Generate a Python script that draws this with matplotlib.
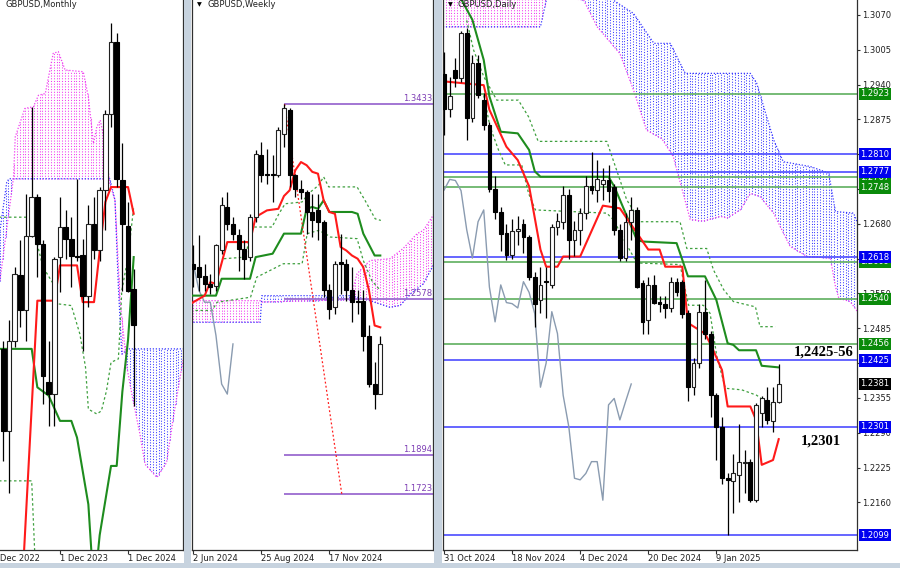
import numpy as np
import matplotlib.pyplot as plt
from matplotlib.patches import Rectangle

plt.rcParams['font.family'] = ['DejaVu Sans']

W, H = 900, 568

# ---------------- monthly, bar 0 = Feb 2023
m_o = [1.2299, 1.2013, 1.2328, 1.2555, 1.2433, 1.2694, 1.2828, 1.2665, 1.2182, 1.2141, 1.2619, 1.2724,
       1.2683, 1.2622, 1.2625, 1.2485, 1.2735, 1.2642, 1.2852, 1.3119, 1.3370, 1.2886, 1.2729, 1.2508]
m_h = [1.2328, 1.2398, 1.2584, 1.2677, 1.2840, 1.3143, 1.2840, 1.2677, 1.2328, 1.2619, 1.2828, 1.2782,
       1.2758, 1.2892, 1.2683, 1.2799, 1.2828, 1.2863, 1.3131, 1.3434, 1.3399, 1.3015, 1.2811, 1.2576]
m_l = [1.1909, 1.1798, 1.2304, 1.2374, 1.2328, 1.2689, 1.2549, 1.2107, 1.2031, 1.2031, 1.2497, 1.2613,
       1.2514, 1.2607, 1.2293, 1.2444, 1.2613, 1.2607, 1.2712, 1.3073, 1.2863, 1.2502, 1.2497, 1.2099]
m_c = [1.2013, 1.2328, 1.2561, 1.2433, 1.2694, 1.2828, 1.2665, 1.2206, 1.2141, 1.2613, 1.2724, 1.2683,
       1.2622, 1.2619, 1.2485, 1.2735, 1.2642, 1.2852, 1.3119, 1.3370, 1.2892, 1.2735, 1.2502, 1.2381]
m_dates = ['1 Dec 2022', '1 Dec 2023', '1 Dec 2024']
m_date_bars = [-2, 10, 22]
m_tenkan_x = [3, 6, 9, 10, 13, 14, 16, 17, 18, 19, 22, 23]
m_tenkan_y = [1.1350, 1.2467, 1.2467, 1.2590, 1.2590, 1.2462, 1.2462, 1.2640, 1.2811, 1.2863, 1.2863, 1.2770]
m_kijun_x = [-1, 5, 6, 8, 10, 12, 13, 15, 16, 17, 19, 20, 21, 22, 23]
m_kijun_y = [1.2299, 1.2299, 1.2165, 1.2136, 1.2048, 1.2048, 1.1990, 1.1757, 1.1450, 1.1650, 1.1891, 1.1891,
             1.2150, 1.2330, 1.2619]
m_dot1_x = [-1, 5, 5.6, 7, 8.8, 9.6, 12, 13.5, 14.5, 15, 16.5, 17.3, 18.2, 19, 20.3, 20.9, 22, 23]
m_dot1_y = [1.2758, 1.2758, 1.2694, 1.2584, 1.2526, 1.2456, 1.2450, 1.2351, 1.2235, 1.2089, 1.2072, 1.2083,
            1.2153, 1.2252, 1.2264, 1.2502, 1.2619, 1.2793]
m_dot2_x = [-1, 5, 5.6]
m_dot2_y = [1.1839, 1.1839, 1.1560]
m_spanA_x = [-0.6, 0.6, 1.0, 18.8, 19.7, 20.3, 20.9, 22.1, 31.7]
m_spanA_y = [1.2710, 1.2880, 1.2892, 1.2892, 1.2817, 1.2514, 1.2281, 1.2299, 1.2299]
m_spanB_x = [-0.6, 1.8, 2.1, 3.8, 5.3, 6.2, 7.4, 8.8, 9.7, 10.9, 14.1, 15, 15.9, 16.5, 17.1, 17.6, 18.8,
             19.7, 20.6, 21.8, 22.9, 24.1, 25, 27.1, 28.8, 30, 31.7]
m_spanB_y = [1.2537, 1.2898, 1.3038, 1.3137, 1.3143, 1.3183, 1.3189, 1.3329, 1.3335, 1.3271, 1.3265, 1.3177,
             1.3015, 1.3073, 1.3096, 1.3049, 1.2875, 1.2817, 1.2467, 1.2235, 1.2118, 1.2002, 1.1897, 1.1851,
             1.1903, 1.2060, 1.2260]

# ---------------- weekly, bar 0 = 2 Jun 2024
w_o = [1.2733, 1.2718, 1.2681, 1.2645, 1.2637, 1.2791, 1.2982, 1.2908, 1.2857, 1.2799, 1.2762, 1.2938,
       1.3209, 1.3128, 1.3125, 1.3121, 1.3304, 1.3407, 1.3121, 1.3062, 1.3048, 1.2960, 1.2967, 1.2916,
       1.2616, 1.2542, 1.2740, 1.2733, 1.2616, 1.2571, 1.2571, 1.2418, 1.2205, 1.2161]
w_h = [1.2813, 1.2857, 1.2733, 1.2689, 1.2821, 1.3026, 1.3048, 1.2938, 1.2886, 1.2835, 1.2952, 1.3231,
       1.3267, 1.3238, 1.3209, 1.3333, 1.3433, 1.3414, 1.3128, 1.3099, 1.3055, 1.3040, 1.3040, 1.2923,
       1.2645, 1.2747, 1.2865, 1.2755, 1.2718, 1.2616, 1.2616, 1.2462, 1.2301, 1.2418]
w_l = [1.2630, 1.2615, 1.2615, 1.2601, 1.2615, 1.2777, 1.2879, 1.2835, 1.2703, 1.2667, 1.2747, 1.2916,
       1.3092, 1.3084, 1.3004, 1.3114, 1.3245, 1.3070, 1.3026, 1.3018, 1.2865, 1.2850, 1.2835, 1.2586,
       1.2491, 1.2513, 1.2601, 1.2571, 1.2476, 1.2513, 1.2352, 1.2191, 1.2095, 1.2161]
w_c = [1.2711, 1.2674, 1.2645, 1.2633, 1.2813, 1.2989, 1.2908, 1.2864, 1.2799, 1.2755, 1.2938, 1.3216,
       1.3121, 1.3121, 1.3123, 1.3319, 1.3414, 1.3121, 1.3062, 1.3048, 1.2960, 1.2923, 1.2916, 1.2616,
       1.2535, 1.2733, 1.2733, 1.2616, 1.2564, 1.2564, 1.2418, 1.2205, 1.2161, 1.2381]
w_dates = ['2 Jun 2024', '25 Aug 2024', '17 Nov 2024']
w_date_bars = [0, 12, 24]
w_tenkan_x = [-0.5, 2, 3, 4, 6, 10, 11, 13, 15, 16, 17, 18, 19, 20, 21, 22, 23, 24, 25, 26, 27, 28, 29, 30,
              31, 32, 33]
w_tenkan_y = [1.2557, 1.2593, 1.2652, 1.2645, 1.2828, 1.2828, 1.2938, 1.2967, 1.2974, 1.3030, 1.3055,
              1.3143, 1.3179, 1.3165, 1.3136, 1.3128, 1.3011, 1.2960, 1.2952, 1.2806, 1.2791, 1.2769,
              1.2755, 1.2718, 1.2616, 1.2462, 1.2454]
w_kijun_x = [-0.5, 4, 5, 10, 11, 14, 16, 19, 20, 21, 22, 23, 24, 28, 29, 30, 32, 33]
w_kijun_y = [1.2593, 1.2593, 1.2667, 1.2667, 1.2762, 1.2777, 1.2865, 1.2865, 1.2974, 1.2982, 1.2974,
             1.3011, 1.2960, 1.2960, 1.2952, 1.2865, 1.2769, 1.2769]
w_dot1_x = [5.4, 9.2, 10.3, 13.9, 15.1, 16.2, 19.2, 20.3, 22.1, 23, 23.9, 28.9, 30.3, 32.1, 33.1]
w_dot1_y = [1.2755, 1.2762, 1.2894, 1.2894, 1.2952, 1.2996, 1.3004, 1.3040, 1.3077, 1.3114, 1.3070,
            1.3070, 1.3011, 1.2930, 1.2923]
w_dot2_x = [-0.5, 3.3, 4.2, 10.1, 11.2, 15.9, 19.2, 20.1, 22.1, 23.3, 24.2, 28.9, 30, 31.5, 33]
w_dot2_y = [1.2528, 1.2528, 1.2564, 1.2586, 1.2674, 1.2733, 1.2733, 1.2865, 1.2879, 1.2865, 1.2850,
            1.2843, 1.2747, 1.2659, 1.2616]
w_spanA_x = [-0.5, 11.8, 12.1, 27.7, 30, 34.7, 36.5, 38.3, 40.6, 42.5]
w_spanA_y = [1.2476, 1.2476, 1.2593, 1.2593, 1.2580, 1.2542, 1.2550, 1.2600, 1.2645, 1.2733]
w_spanB_x = [-0.5, 11.8, 12.1, 27.7, 28.9, 30, 31.2, 34.7, 37, 39.5, 40.6, 42.5]
w_spanB_y = [1.2571, 1.2571, 1.2565, 1.2575, 1.2689, 1.2718, 1.2747, 1.2755, 1.2799, 1.2865, 1.2879, 1.2952]
w_levels = [1.3433, 1.2578, 1.1894, 1.1723]
w_level_start = 16
w_proj_x = [16.1, 26.2]
w_proj_y = [1.3433, 1.1723]

# ---------------- daily, bar 0 = 31 Oct 2024
d_o = [1.2960, 1.2895, 1.2967, 1.2952, 1.3036, 1.2878, 1.2980, 1.2911, 1.2865, 1.2745, 1.2702, 1.2663,
       1.2622, 1.2666, 1.2680, 1.2655, 1.2581, 1.2538, 1.2574, 1.2566, 1.2674, 1.2684, 1.2734, 1.2650,
       1.2669, 1.2700, 1.2751, 1.2743, 1.2755, 1.2761, 1.2749, 1.2669, 1.2616, 1.2684, 1.2706, 1.2569,
       1.2500, 1.2566, 1.2535, 1.2531, 1.2522, 1.2572, 1.2572, 1.2514, 1.2375, 1.2420, 1.2516, 1.2475,
       1.2360, 1.2301, 1.2205, 1.2199, 1.2211, 1.2234, 1.2236, 1.2164, 1.2326, 1.2351, 1.2311, 1.2348]
d_h = [1.3000, 1.2955, 1.2990, 1.3040, 1.3045, 1.2995, 1.2995, 1.2925, 1.2870, 1.2770, 1.2712, 1.2680,
       1.2690, 1.2695, 1.2690, 1.2660, 1.2590, 1.2600, 1.2600, 1.2680, 1.2700, 1.2750, 1.2745, 1.2685,
       1.2710, 1.2770, 1.2815, 1.2800, 1.2785, 1.2790, 1.2755, 1.2680, 1.2700, 1.2730, 1.2712, 1.2575,
       1.2580, 1.2585, 1.2545, 1.2545, 1.2580, 1.2578, 1.2575, 1.2520, 1.2430, 1.2530, 1.2575, 1.2480,
       1.2365, 1.2320, 1.2215, 1.2251, 1.2307, 1.2258, 1.2240, 1.2345, 1.2358, 1.2376, 1.2376, 1.2419]
d_l = [1.2845, 1.2880, 1.2935, 1.2945, 1.2836, 1.2870, 1.2915, 1.2855, 1.2740, 1.2690, 1.2630, 1.2612,
       1.2615, 1.2640, 1.2625, 1.2575, 1.2488, 1.2513, 1.2505, 1.2560, 1.2660, 1.2670, 1.2615, 1.2620,
       1.2640, 1.2690, 1.2735, 1.2720, 1.2725, 1.2720, 1.2660, 1.2610, 1.2610, 1.2650, 1.2560, 1.2475,
       1.2475, 1.2530, 1.2515, 1.2505, 1.2515, 1.2545, 1.2505, 1.2350, 1.2360, 1.2410, 1.2465, 1.2320,
       1.2239, 1.2195, 1.2099, 1.2140, 1.2161, 1.2177, 1.2160, 1.2160, 1.2300, 1.2307, 1.2292, 1.2345]
d_c = [1.2895, 1.2918, 1.2952, 1.3036, 1.2878, 1.2980, 1.2921, 1.2865, 1.2745, 1.2702, 1.2661, 1.2622,
       1.2666, 1.2670, 1.2655, 1.2581, 1.2531, 1.2566, 1.2571, 1.2674, 1.2686, 1.2734, 1.2650, 1.2669,
       1.2700, 1.2751, 1.2743, 1.2763, 1.2761, 1.2742, 1.2669, 1.2616, 1.2684, 1.2706, 1.2562, 1.2497,
       1.2566, 1.2533, 1.2531, 1.2523, 1.2572, 1.2552, 1.2512, 1.2375, 1.2420, 1.2516, 1.2475, 1.2360,
       1.2301, 1.2205, 1.2202, 1.2214, 1.2236, 1.2236, 1.2164, 1.2342, 1.2354, 1.2314, 1.2348, 1.2381]
d_dates = ['31 Oct 2024', '18 Nov 2024', '4 Dec 2024', '20 Dec 2024', '9 Jan 2025']
d_date_bars = [0, 12, 24, 36, 48]
d_tenkan_x = [0, 7, 8, 11, 13, 15, 17, 18, 20, 21, 24, 28, 31, 34, 36, 38, 39, 42, 43, 46, 47, 49, 50,
              54, 55, 56, 58, 59]
d_tenkan_y = [1.2946, 1.2939, 1.2893, 1.2824, 1.2799, 1.2750, 1.2632, 1.2600, 1.2600, 1.2619, 1.2619,
              1.2714, 1.2709, 1.2663, 1.2632, 1.2632, 1.2600, 1.2600, 1.2495, 1.2475, 1.2455, 1.2407,
              1.2339, 1.2339, 1.2314, 1.2230, 1.2239, 1.2278]
d_kijun_x = [3, 5, 7, 8, 10, 13, 15, 16, 17, 29, 30, 34, 35, 41, 43, 46, 47, 48, 50, 51, 52, 55, 56, 59]
d_kijun_y = [1.3100, 1.3061, 1.2986, 1.2918, 1.2852, 1.2849, 1.2818, 1.2778, 1.2768, 1.2768, 1.2750,
             1.2650, 1.2647, 1.2644, 1.2582, 1.2582, 1.2560, 1.2538, 1.2457, 1.2454, 1.2444, 1.2444,
             1.2415, 1.2412]
d_dot1_x = [4, 5.2, 7, 9.3, 13.1, 14.9, 16.6, 28.7, 32.2, 34.6, 41.6, 42.8, 46.3, 47.5, 49.3, 51, 54.9,
            55.7, 58.4]
d_dot1_y = [1.3060, 1.3005, 1.2955, 1.2911, 1.2911, 1.2880, 1.2834, 1.2834, 1.2725, 1.2684, 1.2684,
            1.2634, 1.2634, 1.2594, 1.2557, 1.2535, 1.2525, 1.2488, 1.2488]
d_dot2_x = [7, 8.1, 9.6, 10.8, 13.7, 14.9, 16.1, 28.7, 29.9, 32.2, 34, 41.6, 43.1, 45.7, 46.9, 48.1,
            49.6, 52.5, 55.1, 57.5, 58.7]
d_dot2_y = [1.2920, 1.2862, 1.2818, 1.2790, 1.2790, 1.2737, 1.2706, 1.2700, 1.2687, 1.2641, 1.2607,
            1.2604, 1.2528, 1.2528, 1.2513, 1.2432, 1.2373, 1.2370, 1.2360, 1.2342, 1.2339]
d_spanA_x = [-0.2, 17, 18.7, 25.2, 33.4, 37, 39.9, 42.5, 54, 55.1, 58.1, 59.8, 64.6, 67.8, 69, 72.2, 72.9]
d_spanA_y = [1.3048, 1.3048, 1.3130, 1.3130, 1.3073, 1.3017, 1.3017, 1.2961, 1.2961, 1.2943, 1.2837,
             1.2796, 1.2787, 1.2775, 1.2703, 1.2700, 1.2681]
d_spanB_x = [-0.2, 17, 18.7, 24.6, 27, 31, 33.4, 35.7, 38.4, 40.4, 43.4, 45.7, 48.7, 49.9, 52.2, 54,
             55.7, 58.1, 61, 64, 68.1, 69, 69.6, 71.6, 72.9]
d_spanB_y = [1.3130, 1.3130, 1.3105, 1.3098, 1.3048, 1.2998, 1.2930, 1.2855, 1.2839, 1.2806, 1.2688,
             1.2685, 1.2694, 1.2691, 1.2706, 1.2737, 1.2731, 1.2700, 1.2638, 1.2619, 1.2616, 1.2563,
             1.2541, 1.2535, 1.2516]
d_ticks = [1.3070, 1.3005, 1.2940, 1.2875, 1.2810, 1.2745, 1.2680, 1.2615, 1.2550, 1.2485, 1.2420,
           1.2355, 1.2290, 1.2225, 1.2160]
d_tick_hidden = [1.2810, 1.2745, 1.2615, 1.2420]   # fully covered by level boxes
d_levels = [1.2923, 1.2810, 1.2767, 1.2748, 1.2777, 1.2609, 1.2618, 1.2540, 1.2456, 1.2425, 1.2301, 1.2099]
d_level_kind = ['g', 'b', 'g', 'g', 'b', 'g', 'b', 'g', 'g', 'b', 'b', 'b']
d_last = 1.2381
d_notes = ['1,2425-56', '1,2301']
d_note_pos = [(66.9, 1.2440), (66.4, 1.2275)]

# colours
RED = '#FF1A1A'
GREEN = '#1E8C1E'
DOTG = '#3FA03F'
GREY = '#8A9BB0'
CBLUE = '#3A3AFF'
CMAG = '#F03CF0'
LBLUE = '#4B4BFF'
LGREEN = '#5FAF5F'
PURPLE = '#9B6BD0'
SEP = '#C7D3DF'

fig = plt.figure(figsize=(9, 5.68), dpi=100)
fig.patch.set_facecolor('white')


def panel(left, right, bottom=550):
    return fig.add_axes([left / W, (H - bottom) / H, (right - left) / W, bottom / H])


def candles(ax, o, h, l, c, tiny, width=0.66):
    x = np.arange(len(o))
    o, h, l, c = map(np.asarray, (o, h, l, c))
    ax.vlines(x, l, h, color='black', lw=0.9, zorder=4)
    lo = np.minimum(o, c)
    ht = np.maximum(np.abs(c - o), tiny)
    up = c >= o
    ax.bar(x[up], ht[up], width, lo[up], color='white', edgecolor='#202020', lw=0.8, zorder=5)
    ax.bar(x[~up], ht[~up], width, lo[~up], color='black', edgecolor='black', lw=0.8, zorder=5)


def cloud(ax, xa, ya, xb, yb):
    xs = np.arange(max(xa[0], xb[0]), min(xa[-1], xb[-1]) + 0.01, 0.5)
    a = np.interp(xs, xa, ya)
    b = np.interp(xs, xb, yb)
    cols = [CBLUE if p >= q else CMAG for p, q in zip(a, b)]
    ax.vlines(xs, np.minimum(a, b), np.maximum(a, b), colors=cols, linestyles=(0, (1, 1.6)), lw=0.75, zorder=1)
    ax.plot(xa, ya, color=CBLUE, ls=(0, (1, 1.4)), lw=0.9, zorder=1)
    ax.plot(xb, yb, color=CMAG, ls=(0, (1, 1.4)), lw=0.9, zorder=1)


def frame(ax, xlim, ylim, left_spine=True):
    ax.set_xlim(*xlim)
    ax.set_ylim(*ylim)
    ax.set_facecolor('white')
    ax.spines['top'].set_visible(False)
    ax.spines['left'].set_visible(left_spine)
    for s in ('left', 'right', 'bottom'):
        ax.spines[s].set_color('#303030')
        ax.spines[s].set_linewidth(0.9)
    ax.set_yticks([])
    ax.tick_params(axis='x', length=3, width=0.8, color='#303030', labelbottom=False)


def dates(ax, bars, labels):
    ax.set_xticks([b for b in bars if b >= ax.get_xlim()[0]])
    for b, t in zip(bars, labels):
        ax.text(b, -0.008, t, transform=ax.get_xaxis_transform(), ha='left', va='top',
                fontsize=6, color='#202020', clip_on=False)


def title(ax, text, x0_px=5):
    wpx = ax.get_position().width * W
    ax.text(x0_px / wpx, 0.991, '\u25bc', transform=ax.transAxes, fontsize=4.5, va='center', ha='left')
    ax.text((x0_px + 10) / wpx, 0.991, text, transform=ax.transAxes,
            fontsize=6, va='center', ha='left', color='#202020')


# ---------------- monthly panel
axm = panel(0, 183)
frame(axm, (-0.59, 31.7), (1.1598, 1.3515), left_spine=False)
cloud(axm, m_spanA_x, m_spanA_y, m_spanB_x, m_spanB_y)
axm.plot(m_dot1_x, m_dot1_y, color=DOTG, ls=(0, (2, 2)), lw=0.9, zorder=2)
axm.plot(m_dot2_x, m_dot2_y, color=DOTG, ls=(0, (2, 2)), lw=0.9, zorder=2)
axm.plot(m_kijun_x, m_kijun_y, color=GREEN, lw=1.5, zorder=3)
axm.plot(m_tenkan_x, m_tenkan_y, color=RED, lw=1.5, zorder=3)
candles(axm, m_o, m_h, m_l, m_c, 0.0002, width=0.8)
dates(axm, m_date_bars, m_dates)
title(axm, 'GBPUSD,Monthly', x0_px=-5)

# ---------------- weekly panel
axw = panel(192, 433)
frame(axw, (-0.23, 42.3), (1.1477, 1.3890))
cloud(axw, w_spanA_x, w_spanA_y, w_spanB_x, w_spanB_y)
axw.plot(w_dot1_x, w_dot1_y, color=DOTG, ls=(0, (2, 2)), lw=0.9, zorder=2)
axw.plot(w_dot2_x, w_dot2_y, color=DOTG, ls=(0, (2, 2)), lw=0.9, zorder=2)
axw.plot(np.arange(len(w_c) - 26), w_c[26:], color=GREY, lw=1.0, zorder=2)
axw.plot(w_kijun_x, w_kijun_y, color=GREEN, lw=1.5, zorder=3)
axw.plot(w_tenkan_x, w_tenkan_y, color=RED, lw=1.5, zorder=3)
axw.hlines(w_levels, w_level_start, 42.3, color=PURPLE, lw=1.3, zorder=2)
for v in w_levels:
    axw.text(42.1, v + 0.0006, f'{v:.4f}', ha='right', va='bottom', fontsize=6, color='#7E3FB5', zorder=6)
axw.plot(w_proj_x, w_proj_y, color=RED, ls=(0, (1.5, 1.8)), lw=0.9, zorder=3)
candles(axw, w_o, w_h, w_l, w_c, 0.00025)
dates(axw, w_date_bars, w_dates)
title(axw, 'GBPUSD,Weekly')

# ---------------- daily panel
axd = panel(443, 857)
frame(axd, (-0.18, 72.8), (1.2071, 1.3098))
cloud(axd, d_spanA_x, d_spanA_y, d_spanB_x, d_spanB_y)
for v, k in zip(d_levels, d_level_kind):
    axd.axhline(v, color=LBLUE if k == 'b' else LGREEN, lw=1.2, zorder=2)
axd.plot(d_dot1_x, d_dot1_y, color=DOTG, ls=(0, (2, 2)), lw=0.9, zorder=2)
axd.plot(d_dot2_x, d_dot2_y, color=DOTG, ls=(0, (2, 2)), lw=0.9, zorder=2)
axd.plot(np.arange(len(d_c) - 26), d_c[26:], color=GREY, lw=1.0, zorder=2)
axd.plot(d_kijun_x, d_kijun_y, color=GREEN, lw=1.5, zorder=3)
axd.plot(d_tenkan_x, d_tenkan_y, color=RED, lw=1.5, zorder=3)
candles(axd, d_o, d_h, d_l, d_c, 0.00012)
dates(axd, d_date_bars, d_dates)
title(axd, 'GBPUSD,Daily')
axd.yaxis.tick_right()
axd.set_yticks(d_ticks)
axd.set_yticklabels(['' if t in d_tick_hidden else f'{t:.4f}' for t in d_ticks])
axd.tick_params(axis='y', length=2, width=0.8, pad=2, labelsize=6, color='#303030', labelcolor='#202020')
ytr = axd.get_yaxis_transform()
for v, k in zip(d_levels, d_level_kind):
    axd.text(1.008, v, f'{v:.4f}', transform=ytr, ha='left', va='center', fontsize=6, color='white',
             clip_on=False, zorder=7,
             bbox=dict(boxstyle='square,pad=0.2', fc='#0000F0' if k == 'b' else '#0A8A0A', ec='none'))
axd.text(1.008, d_last, f'{d_last:.4f}', transform=ytr, ha='left', va='center', fontsize=6, color='white',
         clip_on=False, zorder=7, bbox=dict(boxstyle='square,pad=0.2', fc='black', ec='none'))
for t, (bx, by) in zip(d_notes, d_note_pos):
    axd.text(bx, by, t, ha='center', va='center', fontsize=10.5, fontweight='bold',
             family='Liberation Serif', color='black', zorder=8)

# window separators and bottom strip
for x0, x1 in ((184, 191), (434, 442)):
    fig.patches.append(Rectangle((x0 / W, 0), (x1 - x0) / W, 1, transform=fig.transFigure,
                                 fc=SEP, ec='none', zorder=10))
fig.patches.append(Rectangle((0, 0), 1, 5 / H, transform=fig.transFigure, fc=SEP, ec='none', zorder=10))

fig.savefig('out.png', dpi=100)
